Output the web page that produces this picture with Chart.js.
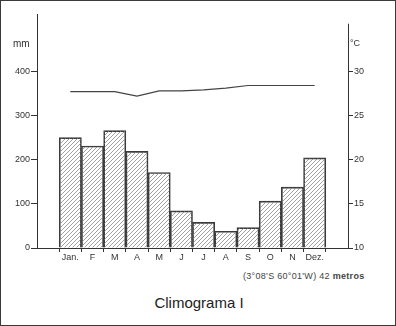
<!DOCTYPE html>
<html>
<head>
<meta charset="utf-8">
<script src="https://cdn.jsdelivr.net/npm/chart.js@4"></script>
<style>
  html, body { margin: 0; padding: 0; background: #fff; }
  #frame { position: relative; width: 396px; height: 326px; box-sizing: border-box; border: 1px solid #3a3a3a; overflow: hidden; }
  #wrap { position: absolute; left: -1px; top: -1px; width: 396px; height: 266px; }
  .lbl { position: absolute; font-family: "Liberation Sans", Arial, sans-serif; color: #333; white-space: nowrap; }
</style>
</head>
<body>
<div id="frame">
  <div id="wrap"><canvas id="chart"></canvas></div>
  <div class="lbl" style="left:12px; top:37px; font-size:10px;">mm</div>
  <div class="lbl" style="left:349px; top:37px; font-size:9px;">°C</div>
  <div class="lbl" style="left:242px; top:270px; font-size:9px; letter-spacing:0.3px; color:#444;">(3°08'S 60°01'W) 42 <b>metros</b></div>
  <div class="lbl" style="left:0; width:396px; text-align:center; top:293px; font-size:15px; color:#222;">Climograma I</div>
</div>
<script>
"use strict";
const months = ["Jan.", "F", "M", "A", "M", "J", "J", "A", "S", "O", "N", "Dez."];
const rainMm = [250, 231, 266, 219, 171, 84, 58, 38, 46, 106, 138, 204];
const tempC = [27.7, 27.7, 27.7, 27.2, 27.8, 27.8, 27.9, 28.1, 28.4, 28.4, 28.4, 28.4];
const mmTicks = [0, 100, 200, 300, 400];
const cTicks = [10, 15, 20, 25, 30];

// one empty slot on each side, as in the drawing
const pad = (a) => [null, ...a, null];

function hatch() {
  const c = document.createElement("canvas");
  c.width = 4; c.height = 4;
  const g = c.getContext("2d");
  g.strokeStyle = "#888";
  g.lineWidth = 0.8;
  g.beginPath();
  g.moveTo(0, 4); g.lineTo(4, 0);
  g.moveTo(-1, 1); g.lineTo(1, -1);
  g.moveTo(3, 5); g.lineTo(5, 3);
  g.stroke();
  return g.createPattern(c, "repeat");
}

const ink = "#333";
const tickFont = { family: "'Liberation Sans', Arial, sans-serif", size: 9 };

// right axis line stops a little above 35 °C
const rightAxisLine = {
  id: "rightAxisLine",
  afterDraw(chart) {
    const s = chart.scales.yT, ctx = chart.ctx;
    ctx.save();
    ctx.strokeStyle = ink; ctx.lineWidth = 1;
    ctx.beginPath();
    ctx.moveTo(s.left + 0.5, s.getPixelForValue(35.4));
    ctx.lineTo(s.left + 0.5, s.bottom);
    ctx.stroke();
    ctx.restore();
  },
};

new Chart(document.getElementById("chart"), {
  data: {
    labels: pad(months),
    datasets: [
      {
        type: "line", data: pad(tempC), yAxisID: "yT",
        borderColor: "#444", borderWidth: 1.2, pointRadius: 0, tension: 0, spanGaps: false,
      },
      {
        type: "bar", data: pad(rainMm), yAxisID: "yP",
        backgroundColor: hatch(), borderColor: "#3a3a3a", borderWidth: 1,
        barPercentage: 1, categoryPercentage: 1,
      },
    ],
  },
  options: {
    responsive: true,
    maintainAspectRatio: false,
    animation: false,
    layout: { padding: { top: 14, left: 0, right: 0, bottom: 0 } },
    plugins: { legend: { display: false }, tooltip: { enabled: false } },
    scales: {
      x: {
        offset: true,
        grid: { offset: true, drawOnChartArea: false, color: ink, tickLength: 4, lineWidth: 1 },
        border: { color: ink, width: 1 },
        ticks: { color: ink, font: tickFont, padding: 0, maxRotation: 0, autoSkip: false },
        afterFit: (s) => { s.height = 18; },
      },
      yP: {
        position: "left", min: 0, max: 530,
        afterBuildTicks: (s) => { s.ticks = mmTicks.map((v) => ({ value: v })); },
        grid: { drawOnChartArea: false, color: ink, tickLength: 6 },
        border: { color: ink, width: 1 },
        ticks: { color: ink, font: tickFont, padding: 1 },
        afterFit: (s) => { s.width = 37; },
      },
      yT: {
        position: "right", min: 10, max: 10 + 530 / 20,
        afterBuildTicks: (s) => { s.ticks = cTicks.map((v) => ({ value: v })); },
        grid: { drawOnChartArea: false, color: ink, tickLength: 5 },
        border: { display: false },
        ticks: { color: ink, font: tickFont, padding: 1 },
        afterFit: (s) => { s.width = 48; },
      },
    },
  },
  plugins: [rightAxisLine],
});
</script>
</body>
</html>
